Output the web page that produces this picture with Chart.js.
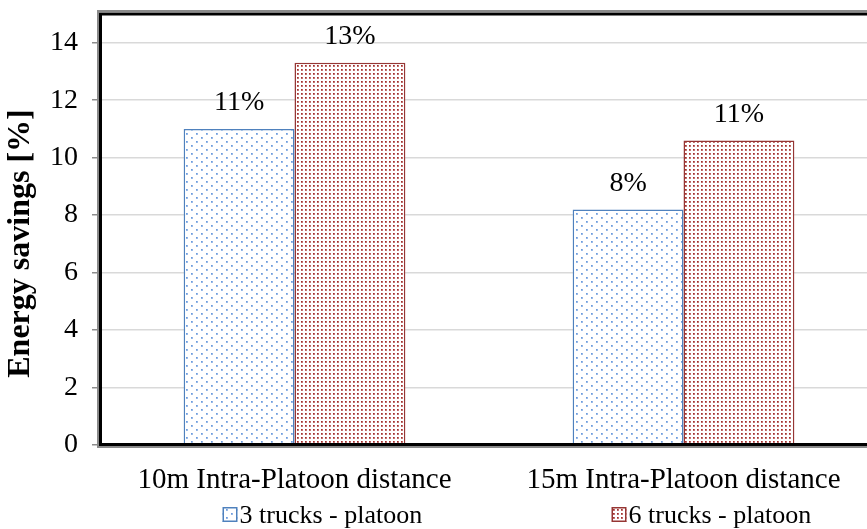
<!DOCTYPE html>
<html>
<head>
<meta charset="utf-8">
<script src="https://cdn.jsdelivr.net/npm/chart.js@4/dist/chart.umd.min.js"></script>
<style>
  html, body { margin: 0; padding: 0; background: #fff; overflow: hidden; }
  #wrap { width: 880px; height: 529px; }
</style>
</head>
<body>
<div id="wrap"><canvas id="myChart" width="880" height="529"></canvas></div>
<script>
// data
const categories = ['10m Intra-Platoon distance', '15m Intra-Platoon distance'];
const seriesNames = ['3 trucks - platoon', '6 trucks - platoon'];
const trucks3 = [11.0, 8.2];
const trucks6 = [13.3, 10.6];
const labels3 = ['11%', '8%'];
const labels6 = ['13%', '11%'];
const yTicks = [0, 2, 4, 6, 8, 10, 12, 14];
const yTitle = 'Energy savings [%]';

const FONT = '"Liberation Serif", "Times New Roman", serif';

// dotted fills like excel's pattern fills
function makePattern(w, h, dots, col, light) {
  let c = document.createElement('canvas');
  c.width = w; c.height = h;
  let x = c.getContext('2d');
  x.fillStyle = '#fff';
  x.fillRect(0, 0, w, h);
  dots.forEach(d => {
    x.fillStyle = light;
    x.fillRect(d[0], d[1], 2, 2);
    x.fillStyle = col;
    x.fillRect(d[0], d[1], 1.5, 1.5);
  });
  return x.createPattern(c, 'repeat');
}
const bluePat = makePattern(10, 8, [[1, 1], [6, 5]], '#6c9bdc', '#b3cbee');
const redPat = makePattern(4, 4, [[1, 1]], '#a12f2d', '#d49a99');

// labels above bars
const barLabels = {
  id: 'barLabels',
  afterDatasetsDraw(chart) {
    let c = chart.ctx;
    c.save();
    c.font = '28px ' + FONT;
    c.fillStyle = '#000';
    c.textAlign = 'center';
    c.textBaseline = 'middle';
    const lbls = [labels3, labels6];
    chart.data.datasets.forEach((ds, i) => {
      chart.getDatasetMeta(i).data.forEach((bar, j) => {
        c.fillText(lbls[i][j], bar.x, bar.y - 26);
      });
    });
    c.restore();
  }
};

// thick black frame with grey edge, plus the y title (sits a bit low in the original)
const frame = {
  id: 'frame',
  afterDatasetsDraw(chart) {
    let a = chart.chartArea;
    let c = chart.ctx;
    c.save();
    c.strokeStyle = '#8a8a8a';
    c.lineWidth = 2;
    c.beginPath();
    c.moveTo(a.right + 10, a.top - 3);
    c.lineTo(a.left - 2, a.top - 3);
    c.lineTo(a.left - 2, a.bottom + 2);
    c.lineTo(a.right + 10, a.bottom + 2);
    c.stroke();
    c.strokeStyle = '#000';
    c.lineWidth = 3;
    c.beginPath();
    c.moveTo(a.right + 10, a.top);
    c.lineTo(a.left + 0.5, a.top);
    c.lineTo(a.left + 0.5, a.bottom - 0.5);
    c.lineTo(a.right + 10, a.bottom - 0.5);
    c.stroke();

    c.translate(21, (a.top + a.bottom) / 2 + 14);
    c.rotate(-Math.PI / 2);
    c.font = 'bold 32px ' + FONT;
    c.fillStyle = '#000';
    c.textAlign = 'center';
    c.textBaseline = 'middle';
    c.fillText(yTitle, 0, 0);
    c.restore();
  }
};

// legend entries sitting under each category
const legendBelow = {
  id: 'legendBelow',
  afterDraw(chart) {
    let c = chart.ctx;
    let xs = chart.scales.x;
    c.save();
    c.font = '26px ' + FONT;
    c.textBaseline = 'middle';
    chart.data.datasets.forEach((ds, i) => {
      let cx = xs.getPixelForValue(i);
      let bx = cx - 72, by = 507;
      c.fillStyle = ds.backgroundColor;
      c.fillRect(bx, by, 15, 15);
      c.strokeStyle = ds.borderColor;
      c.lineWidth = 1.5;
      c.strokeRect(bx + 0.75, by + 0.75, 13.5, 13.5);
      c.fillStyle = '#000';
      c.fillText(seriesNames[i], bx + 17, by + 9);
    });
    c.restore();
  }
};

let data = {
  labels: categories,
  datasets: [{
    label: seriesNames[0],
    data: trucks3,
    backgroundColor: bluePat,
    borderColor: '#4f81bd',
    borderWidth: 1.5,
    borderSkipped: 'bottom'
  },
  {
    label: seriesNames[1],
    data: trucks6,
    backgroundColor: redPat,
    borderColor: '#963634',
    borderWidth: 1.5,
    borderSkipped: 'bottom'
  }]
};

let config = {
  type: 'bar',
  data,
  options: {
    responsive: false,
    animation: false,
    layout: { autoPadding: false, padding: { top: 14, right: 2, bottom: 0, left: 0 } },
    datasets: { bar: { categoryPercentage: 0.57, barPercentage: 1 } },
    plugins: {
      legend: { display: false },
      tooltip: { enabled: false }
    },
    scales: {
      x: {
        afterFit(scale) { scale.height = 84; },
        grid: { display: false, drawTicks: false },
        border: { display: false },
        ticks: { color: '#000', font: { family: FONT, size: 29 }, padding: 18 }
      },
      y: {
        min: 0,
        max: 15,
        afterBuildTicks(axis) { axis.ticks = yTicks.map(v => ({ value: v })); },
        afterFit(scale) {
          scale.width = 100;
          scale.paddingTop = 0;
          scale.paddingBottom = 0;
        },
        grid: { color: '#d9d9d9', tickColor: '#8c8c8c', tickLength: 8, lineWidth: 1.5 },
        border: { display: false },
        ticks: { color: '#000', font: { family: FONT, size: 28 }, padding: 14 }
      }
    }
  },
  plugins: [barLabels, frame, legendBelow]
};

let myChart = new Chart(document.getElementById('myChart'), config);
</script>
</body>
</html>
